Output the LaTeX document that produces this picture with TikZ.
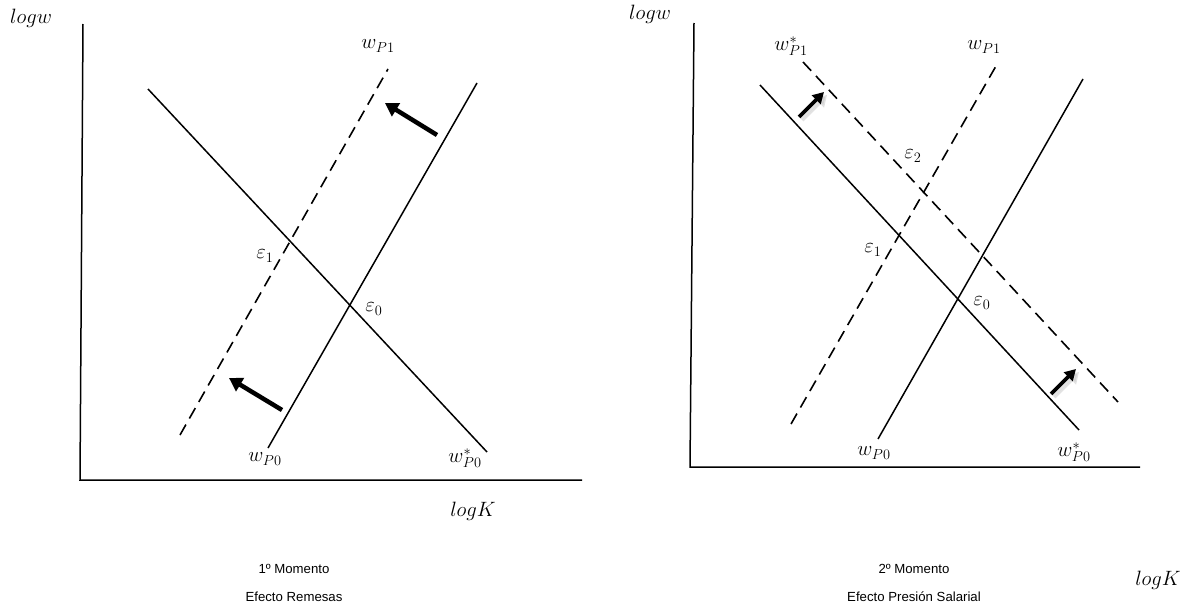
\documentclass[tikz,border=0pt]{standalone}
\usepackage{fontspec}
\newfontfamily\capfont{Liberation Sans}
\usetikzlibrary{arrows.meta}
\tikzset{
  axis/.style={line width=1.5pt},
  curve/.style={line width=1.5pt},
  dcurve/.style={line width=1.6pt, dash pattern=on 12pt off 7pt},
  bigarrow/.style={line width=4.5pt, -{Triangle[length=13pt,width=15pt]}},
  smallarrow/.style={line width=3.6pt, -{Triangle[length=11pt,width=12pt]}},
  shadowarrow/.style={line width=4pt, -{Triangle[length=11pt,width=13pt]}, draw=black!25, fill=black!25, opacity=0.45},
  lab/.style={inner sep=0pt, font=\fontsize{20.5}{24}\selectfont},
  captext/.style={inner sep=0pt, font=\capfont\fontsize{13.2}{15}\selectfont}
}
\begin{document}
\begin{tikzpicture}[x=1pt,y=-1pt]
\useasboundingbox (0,0) rectangle (1194,613);
% ---------------- left panel ----------------
\coordinate (LyT) at (83,24);
\coordinate (Lo) at (80,480);
\coordinate (LxR) at (582,480);
\draw[axis] (LyT) -- (Lo) -- (LxR);
\node[lab] (Llogw) at (31,18) {$logw$};
\node[lab] (LlogK) at (473,511) {$logK$};
% demand
\coordinate (LdA) at (148,89);
\coordinate (LdB) at (487,452);
\draw[curve] (LdA) -- (LdB);
% supply wP0
\coordinate (LsA) at (268,448);
\coordinate (LsB) at (477,83);
\draw[curve] (LsA) -- (LsB);
% supply wP1 dashed
\coordinate (LtA) at (180,435);
\coordinate (LtB) at (388,69);
\draw[dcurve] (LtA) -- (LtB);
% arrows
\coordinate (La1t) at (437,135);
\coordinate (La1h) at (385,103);
\draw[bigarrow] (La1t) -- (La1h);
\coordinate (La2t) at (282,410);
\coordinate (La2h) at (229,378);
\draw[bigarrow] (La2t) -- (La2h);
% labels
\node[lab] (LwP1) at (378,46) {$w_{P1}$};
\node[lab] (LwP0) at (265,459) {$w_{P0}$};
\node[lab] (LwsP0) at (465,458) {$w^{*}_{P0}$};
\node[lab] (Le1) at (265,256) {$\varepsilon_1$};
\node[lab] (Le0) at (374,309) {$\varepsilon_0$};
% ---------------- right panel ----------------
\coordinate (RyT) at (694,23);
\coordinate (Ro) at (690,467);
\coordinate (RxR) at (1140,467);
\draw[axis] (RyT) -- (Ro) -- (RxR);
\node[lab] (Rlogw) at (650,14) {$logw$};
\node[lab] (RlogK) at (1158,580) {$logK$};
% demand solid
\coordinate (RdA) at (760,85);
\coordinate (RdB) at (1079,430);
\draw[curve] (RdA) -- (RdB);
% demand dashed
\coordinate (RDA) at (803,62);
\coordinate (RDB) at (1118,402);
\draw[dcurve] (RDA) -- (RDB);
% supply wP0
\coordinate (RsA) at (878,439);
\coordinate (RsB) at (1083,79);
\draw[curve] (RsA) -- (RsB);
% supply wP1 dashed
\coordinate (RtA) at (791,424);
\coordinate (RtB) at (996,66);
\draw[dcurve] (RtA) -- (RtB);
% arrows with faint shadow
\coordinate (Ra1t) at (799,117);
\coordinate (Ra1h) at (824,92);
\coordinate (Ra1ts) at (802,120);
\coordinate (Ra1hs) at (827,95);
\draw[shadowarrow] (Ra1ts) -- (Ra1hs);
\draw[smallarrow] (Ra1t) -- (Ra1h);
\coordinate (Ra2t) at (1051,394);
\coordinate (Ra2h) at (1076,369);
\coordinate (Ra2ts) at (1054,397);
\coordinate (Ra2hs) at (1079,372);
\draw[shadowarrow] (Ra2ts) -- (Ra2hs);
\draw[smallarrow] (Ra2t) -- (Ra2h);
% labels
\node[lab] (RwsP1) at (791,46) {$w^{*}_{P1}$};
\node[lab] (RwP1) at (984,47) {$w_{P1}$};
\node[lab] (Re2) at (913,156) {$\varepsilon_2$};
\node[lab] (Re1) at (873,250) {$\varepsilon_1$};
\node[lab] (Re0) at (982,303) {$\varepsilon_0$};
\node[lab] (RwP0) at (874,453) {$w_{P0}$};
\node[lab] (RwsP0) at (1074,452) {$w^{*}_{P0}$};
% ---------------- captions ----------------
\node[captext] (c1a) at (294,569) {1º Momento};
\node[captext] (c1b) at (294,597) {Efecto Remesas};
\node[captext] (c2a) at (914,569) {2º Momento};
\node[captext] (c2b) at (914,597) {Efecto Presión Salarial};
\end{tikzpicture}
\end{document}
